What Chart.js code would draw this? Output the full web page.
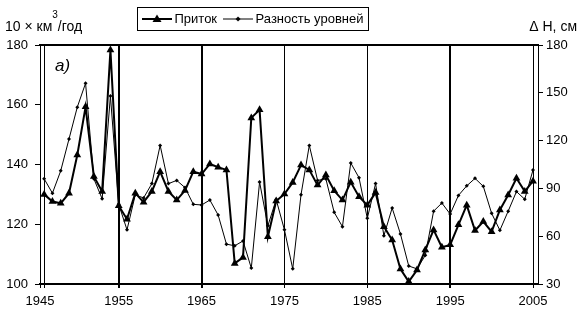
<!DOCTYPE html>
<html>
<head>
<meta charset="utf-8">
<script src="https://cdn.jsdelivr.net/npm/chart.js@4.4.1/dist/chart.umd.min.js"></script>
<style>
  html, body { margin: 0; padding: 0; background: #fff; }
  canvas { display: block; }
</style>
</head>
<body>
<canvas id="inflowChart" width="585" height="331"></canvas>
<script>
// years of observation
const years = [1946, 1947, 1948, 1949, 1950, 1951, 1952, 1953, 1954, 1955,
  1956, 1957, 1958, 1959, 1960, 1961, 1962, 1963, 1964, 1965,
  1966, 1967, 1968, 1969, 1970, 1971, 1972, 1973, 1974, 1975,
  1976, 1977, 1978, 1979, 1980, 1981, 1982, 1983, 1984, 1985,
  1986, 1987, 1988, 1989, 1990, 1991, 1992, 1993, 1994, 1995,
  1996, 1997, 1998, 1999, 2000, 2001, 2002, 2003, 2004, 2005];

// Приток, 10 x км3/год (left axis)
const inflow = [130, 127.6, 127, 130.4, 143.2, 159.3, 136, 131, 178.3, 126.2,
  121.7, 130.4, 127.4, 131, 137.6, 131, 128.1, 131.3, 137.6, 136.8,
  140.2, 139.1, 138.2, 106.9, 108.9, 155.6, 158.3, 115.8, 127.8, 130.1,
  134, 139.8, 138.2, 133.1, 136.5, 131.2, 128.1, 134.1, 129.2, 126.4,
  130.6, 119.2, 114.7, 105, 100.8, 104.7, 111.4, 118.1, 112.3, 113.1,
  119.8, 126.4, 117.9, 120.9, 117.5, 124.8, 129.8, 135.4, 131, 134.4];

// Разность уровней, ΔH см (right axis)
const levelDiff = [96, 87, 101, 121, 141, 156, 96, 83.5, 148, 80,
  64, 86, 84, 93, 117, 93, 95, 90.5, 80, 79.6,
  82.7, 73.3, 55, 54, 57, 40, 94, 66.5, 83, 64,
  39.5, 86, 117, 95, 96, 75, 66, 106, 96.7, 71.2,
  93, 60.3, 77.7, 61.4, 41.3, 39.5, 48, 75.7, 80.8, 73.9,
  85.6, 91.6, 96.3, 91.3, 74.4, 63.7, 75.7, 88, 83.2, 101.6];

// tick values and labels
const xTickValues = [1945.5, 1946, 1955, 1965, 1975, 1985, 1995, 2005];
const xTickLabels = ['1945', '', '1955', '1965', '1975', '1985', '1995', '2005'];
const leftTicks = [100, 120, 140, 160, 180];
const rightTicks = [30, 60, 90, 120, 150, 180];

Chart.defaults.font.family = '"Liberation Sans", Arial, sans-serif';
Chart.defaults.font.size = 13;
Chart.defaults.color = '#000';

// little line+marker pictures for the legend
function legendSample(lineWidth, marker) {
  const c = document.createElement('canvas');
  c.width = 30;
  c.height = 12;
  const g = c.getContext('2d');
  g.strokeStyle = '#000';
  g.fillStyle = '#000';
  g.lineWidth = lineWidth;
  g.beginPath();
  g.moveTo(0, 6);
  g.lineTo(30, 6);
  g.stroke();
  g.beginPath();
  if (marker === 'triangle') {
    g.moveTo(15, 1.5); g.lineTo(19.5, 9); g.lineTo(10.5, 9);
  } else {
    g.moveTo(15, 3.5); g.lineTo(17.5, 6); g.lineTo(15, 8.5); g.lineTo(12.5, 6);
  }
  g.closePath();
  g.fill();
  return c;
}
const samples = [legendSample(2, 'triangle'), legendSample(1, 'diamond')];

const decorations = {
  id: 'decorations',
  afterLayout(chart) {
    chart.legend.left = 136;
  },
  afterDraw(chart) {
    const ctx = chart.ctx;
    const lg = chart.legend;
    const pad = lg.options.labels.padding;
    const x0 = Math.round(lg.left + pad - 9) + 0.5;
    const x1 = Math.round(lg.left + lg.lineWidths[0] + 5) + 0.5;
    ctx.save();
    ctx.strokeStyle = '#000';
    ctx.lineWidth = 1;
    ctx.strokeRect(x0, 7.5, x1 - x0, 23);

    ctx.fillStyle = '#000';
    ctx.textBaseline = 'alphabetic';
    ctx.textAlign = 'left';
    ctx.font = '14px "Liberation Sans", Arial, sans-serif';
    let x = 5;
    ctx.fillText('10 × км', x, 31);
    x += ctx.measureText('10 × км').width;
    ctx.font = '10px "Liberation Sans", Arial, sans-serif';
    ctx.fillText('3', x, 18);
    x += ctx.measureText('3').width;
    ctx.font = '14px "Liberation Sans", Arial, sans-serif';
    ctx.fillText('/год', x, 31);

    ctx.textAlign = 'right';
    ctx.fillText('Δ H, см', 577, 31);

    ctx.textAlign = 'left';
    ctx.font = 'italic 17px "Liberation Sans", Arial, sans-serif';
    ctx.fillText('a)', 55, 71);
    ctx.restore();
  }
};

const ctx = document.getElementById('inflowChart').getContext('2d');

const inflowChart = new Chart(ctx, {
  type: 'line',
  data: {
    datasets: [{
      label: 'Приток',
      data: years.map((yr, i) => ({ x: yr, y: inflow[i] })),
      xAxisID: 'x',
      yAxisID: 'y',
      borderColor: '#000',
      backgroundColor: '#000',
      borderWidth: 2,
      pointStyle: 'triangle',
      pointRadius: 4.5,
      pointBorderWidth: 0,
      tension: 0,
      clip: 5
    }, {
      label: 'Разность уровней',
      data: years.map((yr, i) => ({ x: yr, y: levelDiff[i] })),
      xAxisID: 'x',
      yAxisID: 'y2',
      borderColor: '#000',
      backgroundColor: '#000',
      borderWidth: 1,
      pointStyle: 'rectRot',
      pointRadius: 2,
      pointBorderWidth: 0,
      tension: 0,
      clip: 5
    }]
  },
  options: {
    responsive: false,
    animation: false,
    events: [],
    layout: { padding: { top: 2.5, left: 0, right: 0, bottom: 0 } },
    plugins: {
      tooltip: { enabled: false },
      legend: {
        display: true,
        position: 'top',
        align: 'start',
        labels: {
          padding: 10,
          usePointStyle: true,
          pointStyleWidth: 22,
          font: { size: 13 },
          generateLabels: chart => chart.data.datasets.map((ds, i) => ({
            text: ds.label,
            pointStyle: samples[i],
            fillStyle: '#000',
            strokeStyle: '#000',
            lineWidth: 0,
            fontColor: '#000',
            hidden: false,
            datasetIndex: i
          }))
        }
      }
    },
    scales: {
      x: {
        type: 'linear',
        position: 'bottom',
        min: 1945.5,
        max: 2005.6,
        afterBuildTicks: s => { s.ticks = xTickValues.map(v => ({ value: v })); },
        afterFit: s => { s.height = 47; },
        ticks: {
          autoSkip: false,
          maxRotation: 0,
          padding: 6,
          callback: (v, i) => xTickLabels[i]
        },
        grid: {
          color: '#000',
          lineWidth: c => ([1955, 1965, 1995].includes(c.tick && c.tick.value) ? 2 : 1),
          tickLength: 4
        },
        border: { display: true, color: '#000', width: 2 }
      },
      xTop: {
        type: 'linear',
        position: 'top',
        min: 1945.5,
        max: 2005.6,
        ticks: { display: false },
        grid: { display: false },
        border: { display: true, color: '#000', width: 2 },
        afterFit: s => { s.height = 9.5; }
      },
      y: {
        position: 'left',
        min: 100,
        max: 180,
        afterBuildTicks: s => { s.ticks = leftTicks.map(v => ({ value: v })); },
        afterFit: s => { s.width = 40; },
        ticks: { padding: 7 },
        grid: { drawOnChartArea: false, color: '#000', tickLength: 5 },
        border: { display: true, color: '#000', width: 1 }
      },
      y2: {
        position: 'right',
        min: 30,
        max: 180,
        afterBuildTicks: s => { s.ticks = rightTicks.map(v => ({ value: v })); },
        afterFit: s => { s.width = 47; },
        ticks: { padding: 3 },
        grid: { drawOnChartArea: false, color: '#000', tickLength: 5 },
        border: { display: true, color: '#000', width: 1 }
      }
    }
  },
  plugins: [decorations]
});
</script>
</body>
</html>
